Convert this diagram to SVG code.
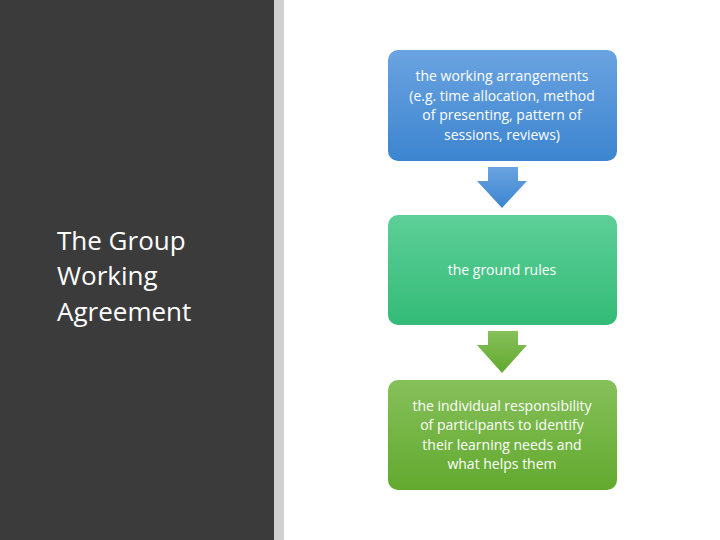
<svg xmlns="http://www.w3.org/2000/svg" width="720" height="540" viewBox="0 0 720 540">
<defs>
<linearGradient id="gb" x1="0" y1="0" x2="0" y2="1"><stop offset="0" stop-color="#6aa3e0"/><stop offset="1" stop-color="#3c85d0"/></linearGradient>
<linearGradient id="gg" x1="0" y1="0" x2="0" y2="1"><stop offset="0" stop-color="#5dcf98"/><stop offset="1" stop-color="#33bb77"/></linearGradient>
<linearGradient id="gl" x1="0" y1="0" x2="0" y2="1"><stop offset="0" stop-color="#86c05a"/><stop offset="1" stop-color="#62a92e"/></linearGradient>
</defs>
<style>
.t{font-family:"Open Sans","Liberation Sans",sans-serif;font-size:14px;fill:#fff;text-anchor:middle}
.h{font-family:"Open Sans","Liberation Sans",sans-serif;font-size:26px;fill:#fff}
</style>
<rect width="720" height="540" fill="#fff"/>
<rect width="274" height="540" fill="#3b3b3b"/>
<rect x="274" width="10" height="540" fill="#d0d0d0"/>
<text class="h"><tspan x="57" y="250">The Group</tspan><tspan x="57" y="285">Working</tspan><tspan x="57" y="321">Agreement</tspan></text>
<g id="connectors">
<path d="M488 167H518V181H527L502 208L477 181H488Z" fill="url(#gb)"/>
<path d="M488 331H518V345H527L502 373L477 345H488Z" fill="url(#gl)"/>
</g>
<g id="n1"><rect x="388" y="50" width="229" height="111" rx="10" fill="url(#gb)"/>
<text class="t"><tspan x="502" y="81">the working arrangements</tspan><tspan x="502" y="101">(e.g. time allocation, method</tspan><tspan x="502" y="120">of presenting,  pattern of</tspan><tspan x="502" y="140">sessions, reviews)</tspan></text></g>
<g id="n2"><rect x="388" y="215" width="229" height="110" rx="10" fill="url(#gg)"/>
<text class="t" x="502" y="275">the ground rules</text></g>
<g id="n3"><rect x="388" y="380" width="229" height="110" rx="10" fill="url(#gl)"/>
<text class="t"><tspan x="502" y="411">the individual responsibility</tspan><tspan x="502" y="430">of participants to identify</tspan><tspan x="502" y="450">their learning needs and</tspan><tspan x="502" y="469">what helps them</tspan></text></g>
</svg>
